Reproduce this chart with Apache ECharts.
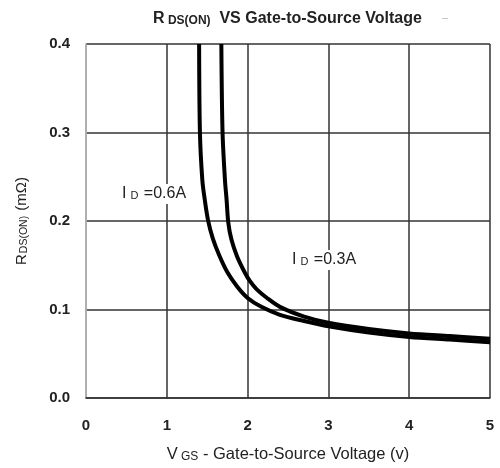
<!DOCTYPE html>
<html>
<head>
<meta charset="utf-8">
<script src="https://cdn.jsdelivr.net/npm/echarts@6/dist/echarts.min.js"></script>
<style>
  html, body { margin: 0; padding: 0; background: #fff; }
  #chart { width: 500px; height: 468px; }
</style>
</head>
<body>
<div id="chart"></div>
<script>
// 坐标轴刻度
const xTicks = [0, 1, 2, 3, 4, 5];
const yTicks = [0.0, 0.1, 0.2, 0.3, 0.4];

// ID = 0.6A 曲线 (VGS, RDS(ON))
const vgs06 = [1.40, 1.41, 1.44, 1.47, 1.51, 1.57, 1.65, 1.75, 1.87, 2.00, 2.17, 2.4, 2.7, 3, 3.5, 4, 4.5, 5];
const rds06 = [0.40, 0.30, 0.246, 0.224, 0.201, 0.180, 0.161, 0.142, 0.126, 0.113, 0.103, 0.094, 0.087, 0.081, 0.074, 0.069, 0.066, 0.063];

// ID = 0.3A 曲线
const vgs03 = [1.675, 1.69, 1.72, 1.74, 1.76, 1.80, 1.87, 1.97, 2.03, 2.11, 2.24, 2.4, 2.7, 3, 3.5, 4, 4.5, 5];
const rds03 = [0.40, 0.30, 0.246, 0.224, 0.199, 0.179, 0.160, 0.141, 0.132, 0.123, 0.113, 0.103, 0.092, 0.085, 0.078, 0.073, 0.070, 0.067];

const font = 'Liberation Sans, Arial, sans-serif';
const chart = echarts.init(document.getElementById('chart'), null, { renderer: 'canvas' });

const pairs = (xs, ys) => xs.map((x, i) => [x, ys[i]]);

// 带下标的曲线标签
const idLabel = (x, y, txt) => ({
    type: 'text',
    left: x,
    top: y,
    z: 10,
    style: {
        text: '{a|I}{b|D}{a| =' + txt + '}',
        backgroundColor: '#fff',
        padding: [2, 0, 2, 0],
        rich: {
            a: { fontFamily: font, fontSize: 16, fill: '#222' },
            b: { fontFamily: font, fontSize: 11, fill: '#222', padding: [4, 1, 0, 4] }
        }
    }
});

const option = {
    backgroundColor: '#ffffff',
    animation: false,
    title: {
        text: '{a|R}{b| DS(ON)}{a|  VS Gate-to-Source Voltage}',
        left: 148,
        top: 6,
        textStyle: {
            rich: {
                a: { fontFamily: font, fontSize: 16, fontWeight: 'bold', color: '#222' },
                b: { fontFamily: font, fontSize: 12, fontWeight: 'bold', color: '#222', padding: [3, 0, 0, 0] }
            }
        }
    },
    grid: { left: 86, right: 10, top: 44, bottom: 70 },
    xAxis: {
        type: 'value',
        min: 0,
        max: 5,
        interval: 1,
        name: '{a|V}{b| GS}{a| - Gate-to-Source Voltage (v)}',
        nameLocation: 'middle',
        nameGap: 48,
        nameTextStyle: {
            rich: {
                a: { fontFamily: font, fontSize: 16.5, color: '#222' },
                b: { fontFamily: font, fontSize: 12, color: '#222', padding: [4, 0, 0, 0] }
            }
        },
        axisLine: { show: true, lineStyle: { color: '#333', width: 1.5 } },
        axisTick: { show: false },
        axisLabel: {
            margin: 20,
            fontFamily: font,
            fontSize: 15,
            fontWeight: 'bold',
            color: '#222',
            formatter: v => String(v)
        },
        splitLine: {
            show: true,
            lineStyle: { color: ['#aaa', '#333', '#333', '#333', '#333', '#333'], width: 1.5 }
        }
    },
    yAxis: {
        type: 'value',
        min: 0,
        max: 0.4,
        interval: 0.1,
        name: '{a|R}{b|DS(ON)}{a| (mΩ)}',
        nameLocation: 'middle',
        nameRotate: 90,
        nameGap: 56,
        nameTextStyle: {
            rich: {
                a: { fontFamily: font, fontSize: 15, color: '#222' },
                b: { fontFamily: font, fontSize: 10.5, color: '#222', padding: [5, 1, 0, 1] }
            }
        },
        axisLine: { show: true, lineStyle: { color: '#aaa', width: 1.5 } },
        axisTick: { show: false },
        axisLabel: {
            margin: 16,
            fontFamily: font,
            fontSize: 15,
            fontWeight: 'bold',
            color: '#222',
            formatter: v => v.toFixed(1)
        },
        splitLine: { show: true, lineStyle: { color: '#333', width: 1.5 } }
    },
    graphic: [
        idLabel(122, 184, '0.6A'),
        idLabel(292, 250, '0.3A'),
        {
            type: 'text',
            left: 442,
            top: 12,
            style: { text: '–', fontFamily: font, fontSize: 11, fill: '#bbb' }
        }
    ],
    series: [
        {
            name: 'ID=0.6A',
            type: 'line',
            smooth: 0.3,
            showSymbol: false,
            lineStyle: { color: '#000', width: 4 },
            data: pairs(vgs06, rds06)
        },
        {
            name: 'ID=0.3A',
            type: 'line',
            smooth: 0.3,
            showSymbol: false,
            lineStyle: { color: '#000', width: 4 },
            data: pairs(vgs03, rds03)
        }
    ]
};

chart.setOption(option);
</script>
</body>
</html>
